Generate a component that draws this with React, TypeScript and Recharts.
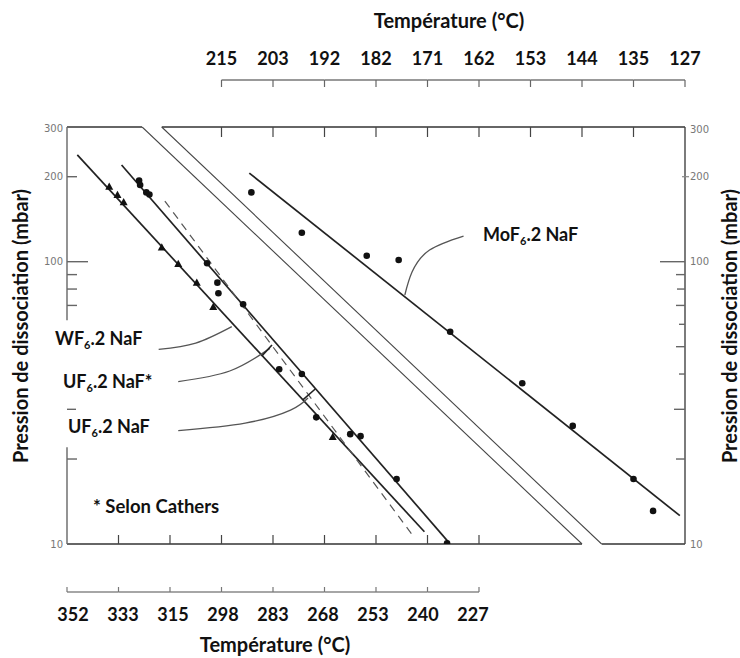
import React from "react";
import { ComposedChart, Line, Scatter, XAxis, YAxis, ReferenceLine } from "recharts";

// ---------------- layout ----------------
const CHART_W = 740;
const CHART_H = 658;
const LEFT_W = 67;
const RIGHT_W = 55;
const TOP_H = 127; // frame top sits at y=127
const TOP_GAP = 47; // distance frame top -> detached top axis
const BOTTOM_FRAME_H = 48; // frame bottom -> detached bottom axis
const BOTTOM_LABEL_H = 66;
const PLOT_H = CHART_H - TOP_H - BOTTOM_FRAME_H - BOTTOM_LABEL_H;

const FONT = "Lato, 'Open Sans', sans-serif";
const INK = "#222";

// x = 10^3/T (K^-1) of the original graph, y = pressure in mbar (log)
const U_MIN = 1.9;
const U_MAX = 2.5;
// pasted temperature scale under the graph (10^3/T, own spacing)
const V_MIN = 1.594;
const V_MAX = 2.212;
const U_STEP_PX = ((CHART_W - LEFT_W - RIGHT_W) / (U_MAX - U_MIN)) * 0.05;

// ---------------- axis data ----------------
const U_TICKS = [1.9, 1.95, 2.0, 2.05, 2.1, 2.15, 2.2, 2.25, 2.3, 2.35, 2.4, 2.45, 2.5];
const TOP_TEMP_TICKS = [2.05, 2.1, 2.15, 2.2, 2.25, 2.3, 2.35, 2.4, 2.45, 2.5];
const TOP_TEMP_LABELS = ["215", "203", "192", "182", "171", "162", "153", "144", "135", "127"];
const BOTTOM_TEMP_TICKS = [1.6, 1.65, 1.7, 1.75, 1.8, 1.85, 1.9, 1.95, 2.0];
const BOTTOM_TEMP_LABELS = ["352", "333", "315", "298", "283", "268", "253", "240", "227"];
const P_TICKS_LEFT = [10, 20, 30, 70, 80, 90, 100, 200, 300];
const P_TICKS_RIGHT = [10, 20, 30, 40, 50, 60, 70, 80, 90, 100, 200, 300];
const P_LABELS = [10, 100, 200, 300];
const LEFT_AXIS_HIDDEN = [22, 62]; // part of the left axis covered by the pasted labels

// ---------------- series ----------------
const WF6_LINE = [
  { u: 1.91, p: 239 },
  { u: 2.247, p: 11.05 },
];
const UF6_LINE = [
  { u: 1.953, p: 220 },
  { u: 2.27, p: 10.2 },
];
const UF6_CATHERS_LINE = [
  { u: 1.995, p: 164 },
  { u: 2.235, p: 10.8 },
];
const BAND_LINE_1 = [
  { u: 1.973, p: 300 },
  { u: 2.4, p: 10 },
];
const BAND_LINE_2 = [
  { u: 1.992, p: 300 },
  { u: 2.419, p: 10 },
];
const MOF6_LINE = [
  { u: 2.077, p: 206 },
  { u: 2.495, p: 12.6 },
];

const WF6_POINTS = [
  { u: 1.941, p: 184 },
  { u: 1.949, p: 172 },
  { u: 1.955, p: 162 },
  { u: 1.992, p: 112 },
  { u: 2.008, p: 98 },
  { u: 2.026, p: 84 },
  { u: 2.042, p: 69 },
  { u: 2.158, p: 23.9 },
];
const UF6_POINTS = [
  { u: 1.97, p: 194 },
  { u: 1.971, p: 187 },
  { u: 1.977, p: 176 },
  { u: 1.98, p: 173 },
  { u: 2.036, p: 98.7 },
  { u: 2.046, p: 84.3 },
  { u: 2.047, p: 77.3 },
  { u: 2.071, p: 70.7 },
  { u: 2.106, p: 41.6 },
  { u: 2.128, p: 40.0 },
  { u: 2.142, p: 28.1 },
  { u: 2.175, p: 24.5 },
  { u: 2.185, p: 24.1 },
  { u: 2.22, p: 17.0 },
  { u: 2.269, p: 10.06 },
];
const MOF6_POINTS = [
  { u: 2.079, p: 176 },
  { u: 2.128, p: 126.7 },
  { u: 2.191, p: 105 },
  { u: 2.222, p: 101.4 },
  { u: 2.272, p: 56.5 },
  { u: 2.342, p: 37.1 },
  { u: 2.391, p: 26.2 },
  { u: 2.45, p: 17.0 },
  { u: 2.469, p: 13.1 },
];

// leader curves from the labels
const WF6_LEADER = [
  { u: 1.989, p: 48.9 },
  { u: 2.025, p: 51.5 },
  { u: 2.06, p: 58.9 },
];
const UF6_CATHERS_LEADER = [
  { u: 2.008, p: 37.6 },
  { u: 2.058, p: 41.0 },
  { u: 2.097, p: 49.3 },
];
const UF6_CATHERS_MARK = [
  { u: 2.089, p: 46.3 },
  { u: 2.099, p: 50.7 },
];
const UF6_LEADER = [
  { u: 2.008, p: 25.2 },
  { u: 2.073, p: 26.8 },
  { u: 2.117, p: 29.8 },
  { u: 2.134, p: 32.9 },
];
const UF6_MARK = [
  { u: 2.129, p: 32.4 },
  { u: 2.141, p: 35.4 },
];
const MOF6_LEADER = [
  { u: 2.285, p: 123.3 },
  { u: 2.252, p: 110 },
  { u: 2.235, p: 91.9 },
  { u: 2.228, p: 76.2 },
];

// anchors so that the axes without a drawn series still get their ticks
const BOTTOM_TEMP_ANCHORS = BOTTOM_TEMP_TICKS.map((v) => ({ v, p: 10 }));
const TOP_TEMP_ANCHORS = TOP_TEMP_TICKS.map((u) => ({ u, p: 300 }));

const near = (a: number, b: number) => Math.abs(a - b) < 1e-6;

// ---------------- ticks ----------------
const renderTopTick = (props: any) => {
  const { x, payload } = props;
  const v = payload.value as number;
  const ys = TOP_H - TOP_GAP; // detached axis
  const li = TOP_TEMP_TICKS.findIndex((t) => near(t, v));
  return (
    <g>
      {v > 2.04 && v < 2.49 && <line x1={x} x2={x + U_STEP_PX} y1={ys} y2={ys} stroke="#777" strokeWidth={1.4} />}
      {v > 2.04 && <line x1={x} x2={x} y1={ys} y2={ys + 7} stroke="#666" strokeWidth={1.2} />}
      {li >= 0 && (
        <text x={x} y={ys - 15} textAnchor="middle" fontFamily={FONT} fontWeight={700} fontSize={18} fill="#111">
          {TOP_TEMP_LABELS[li]}
        </text>
      )}
    </g>
  );
};

// frame ticks (top and bottom edge) plus the detached axis under the frame
const renderBottomFrameTick = (props: any) => {
  const { x, y, payload } = props;
  const v = payload.value as number;
  const ys = y + BOTTOM_FRAME_H;
  const yt = y - PLOT_H;
  return (
    <g>
      {v > 1.94 && v < 2.31 && <line x1={x} x2={x} y1={y} y2={y - 9} stroke="#444" strokeWidth={1.2} />}
      {v > 2.04 && v < 2.46 && <line x1={x} x2={x} y1={yt} y2={yt + 10} stroke="#444" strokeWidth={1.2} />}
      {v < 2.29 && <line x1={x} x2={x + U_STEP_PX} y1={ys} y2={ys} stroke="#888" strokeWidth={1.4} />}
      {v < 2.31 && <line x1={x} x2={x} y1={ys} y2={ys - 5} stroke="#777" strokeWidth={1.2} />}
    </g>
  );
};

const renderBottomTempTick = (props: any) => {
  const { x, y, payload } = props;
  const i = BOTTOM_TEMP_TICKS.findIndex((t) => near(t, payload.value));
  if (i < 0) return <g />;
  return (
    <text x={x} y={y + 29} textAnchor="middle" fontFamily={FONT} fontWeight={700} fontSize={18} fill="#111">
      {BOTTOM_TEMP_LABELS[i]}
    </text>
  );
};

const LEFT_TICK_LEN: Record<number, number> = { 20: 10, 30: 9, 70: 10, 80: 10, 90: 10, 100: 21, 200: 10 };
const RIGHT_TICK_LEN: Record<number, number> = { 20: 9, 30: 11, 40: 6, 50: 9, 60: 6, 70: 9, 80: 8, 90: 9, 100: 25 };

const renderLeftTick = (props: any) => {
  const { x, y, payload } = props;
  const v = payload.value as number;
  const len = LEFT_TICK_LEN[v] || 0;
  return (
    <g>
      {len > 0 && <line x1={x} x2={x + len} y1={y} y2={y} stroke="#666" strokeWidth={1.4} />}
      {P_LABELS.includes(v) && (
        <text x={x - 4} y={y + (v === 300 ? 5 : 3.5)} textAnchor="end" fontFamily="'DejaVu Sans', sans-serif" fontSize={10} fill="#777">
          {v}
        </text>
      )}
    </g>
  );
};

const renderRightTick = (props: any) => {
  const { x, y, payload } = props;
  const v = payload.value as number;
  const len = RIGHT_TICK_LEN[v] || 0;
  return (
    <g>
      {len > 0 && <line x1={x - len} x2={x} y1={y} y2={y} stroke="#666" strokeWidth={1.4} />}
      {v === 200 && <line x1={x - 3} x2={x + 4} y1={y} y2={y} stroke="#888" strokeWidth={1.2} />}
      {P_LABELS.includes(v) && (
        <text x={x + 5} y={y + (v === 300 ? 6 : 3.5)} textAnchor="start" fontFamily="'DejaVu Sans', sans-serif" fontSize={10} fill="#777">
          {v}
        </text>
      )}
    </g>
  );
};

// ---------------- marks ----------------
const renderCircle = (props: any) => <circle cx={props.cx} cy={props.cy} r={3.3} fill="#111" />;
const renderTriangle = (props: any) => {
  const { cx, cy } = props;
  return <polygon points={`${cx},${cy - 4.5} ${cx - 4},${cy + 2.8} ${cx + 4},${cy + 2.8}`} fill="#111" />;
};

// ---------------- titles / annotations ----------------
const titleStyle = { fontFamily: FONT, fontWeight: 700, fontSize: 20, fill: "#111" } as const;

const Formula = ({ x, y, pre, post }: { x: number; y: number; pre: string; post: string }) => (
  <text x={x} y={y} fontFamily={FONT} fontWeight={700} fontSize={18} fill="#111">
    {pre}
    <tspan fontSize={11} dy={4}>
      6
    </tspan>
    <tspan dy={-4}>{post}</tspan>
  </text>
);

const App: React.FC = () => {
  const lineProps = {
    xAxisId: "u",
    yAxisId: "p",
    dataKey: "p",
    dot: false,
    activeDot: false,
    isAnimationActive: false,
    legendType: "none" as const,
  };

  return (
    <div style={{ position: "absolute", left: 0, top: 0, width: CHART_W, height: CHART_H, background: "#fff" }}>
      <ComposedChart width={CHART_W} height={CHART_H} margin={{ top: 0, right: 0, bottom: 0, left: 0 }}>
        <XAxis
          xAxisId="u"
          dataKey="u"
          type="number"
          orientation="bottom"
          domain={[U_MIN, U_MAX]}
          allowDataOverflow
          ticks={U_TICKS}
          interval={0}
          height={BOTTOM_FRAME_H}
          axisLine={false}
          tickLine={false}
          tickSize={0}
          tickMargin={0}
          tick={renderBottomFrameTick}
        />
        <XAxis
          xAxisId="v"
          dataKey="v"
          type="number"
          orientation="bottom"
          domain={[V_MIN, V_MAX]}
          allowDataOverflow
          ticks={BOTTOM_TEMP_TICKS}
          interval={0}
          height={BOTTOM_LABEL_H}
          axisLine={false}
          tickLine={false}
          tickSize={0}
          tickMargin={0}
          tick={renderBottomTempTick}
          label={() => (
            <text x={275} y={652} textAnchor="middle" {...titleStyle}>
              Température (°C)
            </text>
          )}
        />
        <XAxis
          xAxisId="top"
          dataKey="u"
          type="number"
          orientation="top"
          domain={[U_MIN, U_MAX]}
          allowDataOverflow
          ticks={U_TICKS}
          interval={0}
          height={TOP_H}
          axisLine={false}
          tickLine={false}
          tickSize={0}
          tickMargin={0}
          tick={renderTopTick}
          label={() => (
            <text x={449} y={28} textAnchor="middle" {...titleStyle}>
              Température (°C)
            </text>
          )}
        />
        <YAxis
          yAxisId="p"
          scale="log"
          type="number"
          domain={[10, 300]}
          allowDataOverflow
          ticks={P_TICKS_LEFT}
          interval={0}
          width={LEFT_W}
          axisLine={false}
          tickLine={false}
          tickSize={0}
          tickMargin={0}
          tick={renderLeftTick}
          label={() => (
            <text x={21} y={326} transform="rotate(-90 21 326)" textAnchor="middle" dy="0.35em" {...titleStyle}>
              Pression de dissociation (mbar)
            </text>
          )}
        />
        <YAxis
          yAxisId="pR"
          orientation="right"
          scale="log"
          type="number"
          domain={[10, 300]}
          allowDataOverflow
          ticks={P_TICKS_RIGHT}
          interval={0}
          width={RIGHT_W}
          axisLine={{ stroke: "#444", strokeWidth: 1.4 }}
          tickLine={false}
          tickSize={0}
          tickMargin={0}
          tick={renderRightTick}
          label={() => (
            <text x={730} y={326} transform="rotate(-90 730 326)" textAnchor="middle" dy="0.35em" {...titleStyle}>
              Pression de dissociation (mbar)
            </text>
          )}
        />

        {/* invisible anchors for the temperature scales */}
        <Line xAxisId="v" yAxisId="p" data={BOTTOM_TEMP_ANCHORS} dataKey="p" stroke="none" dot={false} activeDot={false} isAnimationActive={false} legendType="none" />
        <Line xAxisId="top" yAxisId="p" data={TOP_TEMP_ANCHORS} dataKey="p" stroke="none" dot={false} activeDot={false} isAnimationActive={false} legendType="none" />

        {/* frame: broken where the band lines meet it */}
        <ReferenceLine xAxisId="u" yAxisId="p" ifOverflow="visible" stroke="#333" strokeWidth={1.4}
          segment={[{ x: U_MIN, y: 300 }, { x: BAND_LINE_1[0].u, y: 300 }]} />
        <ReferenceLine xAxisId="u" yAxisId="p" ifOverflow="visible" stroke="#333" strokeWidth={1.4}
          segment={[{ x: BAND_LINE_2[0].u, y: 300 }, { x: U_MAX, y: 300 }]} />
        <ReferenceLine xAxisId="u" yAxisId="p" ifOverflow="visible" stroke="#333" strokeWidth={1.6}
          segment={[{ x: U_MIN, y: 10 }, { x: BAND_LINE_1[1].u, y: 10 }]} />
        <ReferenceLine xAxisId="u" yAxisId="p" ifOverflow="visible" stroke="#333" strokeWidth={1.6}
          segment={[{ x: BAND_LINE_2[1].u, y: 10 }, { x: U_MAX, y: 10 }]} />
        <ReferenceLine xAxisId="u" yAxisId="p" ifOverflow="visible" stroke="#666" strokeWidth={1.4}
          segment={[{ x: U_MIN, y: 300 }, { x: U_MIN, y: LEFT_AXIS_HIDDEN[1] }]} />
        <ReferenceLine xAxisId="u" yAxisId="p" ifOverflow="visible" stroke="#666" strokeWidth={1.4}
          segment={[{ x: U_MIN, y: LEFT_AXIS_HIDDEN[0] }, { x: U_MIN, y: 10 }]} />

        {/* lines */}
        <Line {...lineProps} data={BAND_LINE_1} type="linear" stroke="#444" strokeWidth={1.1} />
        <Line {...lineProps} data={BAND_LINE_2} type="linear" stroke="#444" strokeWidth={1.1} />
        <Line {...lineProps} data={WF6_LINE} type="linear" stroke={INK} strokeWidth={1.7} />
        <Line {...lineProps} data={UF6_LINE} type="linear" stroke={INK} strokeWidth={1.7} />
        <Line {...lineProps} data={UF6_CATHERS_LINE} type="linear" stroke="#555" strokeWidth={1.2} strokeDasharray="8 6" />
        <Line {...lineProps} data={MOF6_LINE} type="linear" stroke={INK} strokeWidth={1.7} />

        {/* leaders */}
        <Line {...lineProps} data={WF6_LEADER} type="natural" stroke="#555" strokeWidth={1.3} />
        <Line {...lineProps} data={UF6_CATHERS_LEADER} type="natural" stroke="#555" strokeWidth={1.3} />
        <Line {...lineProps} data={UF6_CATHERS_MARK} type="linear" stroke={INK} strokeWidth={1.6} />
        <Line {...lineProps} data={UF6_LEADER} type="natural" stroke="#555" strokeWidth={1.3} />
        <Line {...lineProps} data={UF6_MARK} type="linear" stroke={INK} strokeWidth={1.6} />
        <Line {...lineProps} data={MOF6_LEADER} type="natural" stroke="#555" strokeWidth={1.3} />

        {/* measured points */}
        <Scatter xAxisId="u" yAxisId="p" data={WF6_POINTS} dataKey="p" shape={renderTriangle} isAnimationActive={false} legendType="none" />
        <Scatter xAxisId="u" yAxisId="p" data={UF6_POINTS} dataKey="p" shape={renderCircle} isAnimationActive={false} legendType="none" />
        <Scatter xAxisId="u" yAxisId="p" data={MOF6_POINTS} dataKey="p" shape={renderCircle} isAnimationActive={false} legendType="none" />
      </ComposedChart>

      {/* pasted labels */}
      <svg width={CHART_W} height={CHART_H} style={{ position: "absolute", left: 0, top: 0, pointerEvents: "none" }}>
        <Formula x={55} y={345} pre="WF" post=".2 NaF" />
        <Formula x={63} y={388} pre="UF" post=".2 NaF*" />
        <Formula x={68} y={433} pre="UF" post=".2 NaF" />
        <Formula x={483} y={241} pre="MoF" post=".2 NaF" />
        <text x={93} y={513} fontFamily={FONT} fontWeight={700} fontSize={18.5} fill="#111">
          * Selon Cathers
        </text>
      </svg>
    </div>
  );
};

export default App;
